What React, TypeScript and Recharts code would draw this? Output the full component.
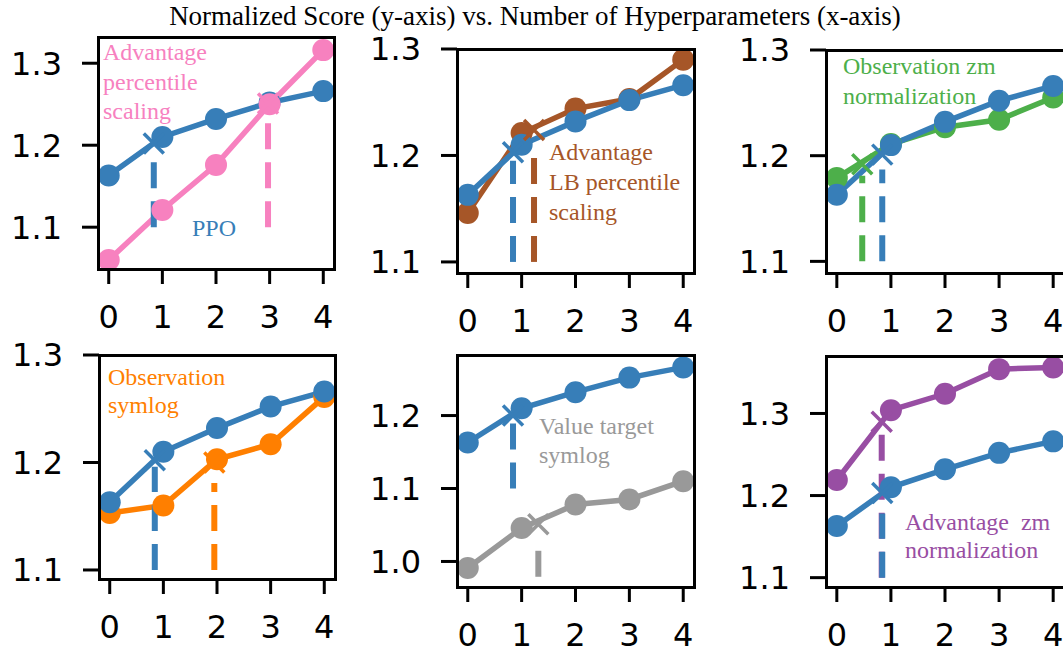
import React from "react";
import { ComposedChart, Line, XAxis, YAxis } from "recharts";

// hyperparameter count on the x axis
const xTicks = [0, 1, 2, 3, 4];

// PPO baseline, repeated in every panel
const ppo = [1.163, 1.21, 1.232, 1.252, 1.266];

// variant scores per panel
const advPercentile = [1.06, 1.121, 1.176, 1.25, 1.316];
const advLbPercentile = [1.146, 1.221, 1.244, 1.253, 1.29];
const obsZm = [1.179, 1.211, 1.227, 1.234, 1.255];
const obsSymlog = [1.153, 1.16, 1.203, 1.217, 1.261];
const valueSymlog = [0.991, 1.046, 1.078, 1.085, 1.11];
const advZm = [1.219, 1.304, 1.324, 1.354, 1.356];

const variantScores = [advPercentile, advLbPercentile, obsZm, obsSymlog, valueSymlog, advZm];
const variantNames = [
  ["Advantage", "percentile", "scaling"],
  ["Advantage", "LB percentile", "scaling"],
  ["Observation zm", "normalization"],
  ["Observation", "symlog"],
  ["Value target", "symlog"],
  ["Advantage  zm", "normalization"],
];

// crossing markers (x) and the dashed drop lines under them
const variantCrossX = [2.97, 1.23, 0.47, 1.95, 1.31, 0.83];
const variantCrossY = [1.251, 1.224, 1.192, 1.2, 1.051, 1.29];
const variantDashTop = [1.234, 1.203, 1.181, 1.181, 1.032, 1.278];
const ppoCrossX = [0.84, 0.84, 0.84, 0.84, 0.84, 0.84];
const ppoCrossY = [1.202, 1.203, 1.201, 1.202, 1.2, 1.203];
const ppoDashTop = [1.182, 1.195, 1.187, 1.196, 1.194, 1.178];
const dashBottom = [1.1, 1.1, 1.1, 1.1, 0.979, 1.1];

const yDomains = [
  [1.049, 1.332],
  [1.0896, 1.3],
  [1.089, 1.3],
  [1.0916, 1.3],
  [0.965, 1.283],
  [1.0886, 1.37],
];
const yTicks = [
  [1.1, 1.2, 1.3],
  [1.1, 1.2, 1.3],
  [1.1, 1.2, 1.3],
  [1.1, 1.2, 1.3],
  [1.0, 1.1, 1.2],
  [1.1, 1.2, 1.3],
];

const TITLE = "Normalized Score (y-axis) vs. Number of Hyperparameters (x-axis)";
const BLUE = "#377eb8";
const colors = ["#f781bf", "#a65628", "#4daf4a", "#ff7f00", "#999999", "#984ea3"];

// plot frame rectangles in page pixels
const frames = [
  { left: 98, right: 334, top: 37, bottom: 269 },
  { left: 457, right: 694, top: 49, bottom: 273 },
  { left: 826, right: 1064, top: 50, bottom: 273 },
  { left: 99, right: 335, top: 355, bottom: 579 },
  { left: 457, right: 694, top: 355, bottom: 587 },
  { left: 826, right: 1064, top: 356, bottom: 587 },
];
const labelPos = [
  { left: 103, top: 38, lh: 29.5 },
  { left: 549, top: 137, lh: 30 },
  { left: 843, top: 51, lh: 30 },
  { left: 108, top: 363, lh: 28 },
  { left: 539, top: 411.5, lh: 29 },
  { left: 905, top: 508, lh: 28 },
];

const Y_W = 100;
const X_H = 70;
const TOP_PAD = 25;
const serif = "'Liberation Serif', 'Times New Roman', serif";
const tickFont = { fontSize: 32, fill: "#000", fontFamily: "'DejaVu Sans', sans-serif" };

const crossDot = (color: string) => (props: any) => {
  const { cx, cy, index } = props;
  if (cx == null || cy == null) return <g key={index} />;
  const s = 10;
  return (
    <path
      key={index}
      d={`M${cx - s},${cy - s}L${cx + s},${cy + s}M${cx - s},${cy + s}L${cx + s},${cy - s}`}
      stroke={color}
      strokeWidth={3.5}
      fill="none"
    />
  );
};

function Panel({ i }: { i: number }) {
  const f = frames[i];
  const color = colors[i];
  const rows = xTicks.map((x, k) => ({ x, ppo: ppo[k], variant: variantScores[i][k] }));
  const vDash = [
    { x: variantCrossX[i], y: dashBottom[i] },
    { x: variantCrossX[i], y: variantDashTop[i] },
  ];
  const pDash = [
    { x: ppoCrossX[i], y: i === 4 ? 1.1 : dashBottom[i] },
    { x: ppoCrossX[i], y: ppoDashTop[i] },
  ];
  const vCross = [{ x: variantCrossX[i], y: variantCrossY[i] }];
  const pCross = [{ x: ppoCrossX[i], y: ppoCrossY[i] }];
  const variantOnTop = i === 0;

  const variantLine = (
    <Line
      key="variant"
      dataKey="variant"
      stroke={color}
      strokeWidth={5.5}
      dot={{ r: 11, fill: color, stroke: color, strokeWidth: 0 }}
      isAnimationActive={false}
    />
  );
  const ppoLine = (
    <Line
      key="ppo"
      dataKey="ppo"
      stroke={BLUE}
      strokeWidth={5.5}
      dot={{ r: 11, fill: BLUE, stroke: BLUE, strokeWidth: 0 }}
      isAnimationActive={false}
    />
  );

  const lab = labelPos[i];
  return (
    <>
      <div style={{ position: "absolute", left: f.left - Y_W, top: f.top - TOP_PAD }}>
        <ComposedChart
          width={Y_W + f.right - f.left}
          height={f.bottom - f.top + X_H + TOP_PAD}
          data={rows}
          margin={{ top: TOP_PAD, right: 0, bottom: 0, left: 0 }}
        >
          <XAxis
            dataKey="x"
            type="number"
            domain={[-0.2, 4.2]}
            ticks={xTicks}
            interval={0}
            allowDataOverflow
            height={X_H}
            axisLine={false}
            tickSize={15}
            tickMargin={21}
            tickLine={{ stroke: "#000", strokeWidth: 3 }}
            tick={tickFont}
          />
          <YAxis
            type="number"
            domain={yDomains[i]}
            ticks={yTicks[i]}
            interval={0}
            allowDataOverflow
            width={Y_W}
            axisLine={false}
            tickSize={16}
            tickMargin={20}
            tickLine={{ stroke: "#000", strokeWidth: 3 }}
            tick={tickFont}
            tickFormatter={(v: number) => v.toFixed(1)}
          />
          {variantOnTop ? ppoLine : variantLine}
          {variantOnTop ? variantLine : ppoLine}
          <Line
            data={vDash}
            dataKey="y"
            stroke={color}
            strokeWidth={6}
            strokeDasharray="26 13"
            dot={false}
            isAnimationActive={false}
          />
          <Line
            data={pDash}
            dataKey="y"
            stroke={BLUE}
            strokeWidth={6}
            strokeDasharray="26 13"
            dot={false}
            isAnimationActive={false}
          />
          <Line
            data={pCross}
            dataKey="y"
            stroke="none"
            dot={crossDot(BLUE)}
            isAnimationActive={false}
          />
          <Line
            data={vCross}
            dataKey="y"
            stroke="none"
            dot={crossDot(color)}
            isAnimationActive={false}
          />
        </ComposedChart>
      </div>
      <div
        style={{
          position: "absolute",
          left: f.left - 1.5,
          top: f.top - 1.5,
          width: f.right - f.left + 3,
          height: f.bottom - f.top + 3,
          border: "3px solid #000",
          boxSizing: "border-box",
          pointerEvents: "none",
        }}
      />
      <div
        style={{
          position: "absolute",
          left: lab.left,
          top: lab.top,
          color,
          fontFamily: serif,
          fontSize: 24,
          lineHeight: `${lab.lh}px`,
          whiteSpace: "pre",
        }}
      >
        {variantNames[i].join("\n")}
      </div>
      {i === 0 && (
        <div
          style={{
            position: "absolute",
            left: 192,
            top: 213,
            color: BLUE,
            fontFamily: serif,
            fontSize: 24,
            lineHeight: "30px",
          }}
        >
          PPO
        </div>
      )}
    </>
  );
}

export default function App() {
  return (
    <div
      style={{
        position: "absolute",
        left: 0,
        top: 0,
        width: 1063,
        height: 655,
        overflow: "hidden",
        background: "#fff",
      }}
    >
      <svg width={1063} height={32} style={{ position: "absolute", left: 0, top: 0 }}>
        <text x={535} y={24.5} textAnchor="middle" fontFamily={serif} fontSize={27} fill="#000">
          {TITLE}
        </text>
      </svg>
      {frames.map((_, i) => (
        <Panel key={i} i={i} />
      ))}
    </div>
  );
}
